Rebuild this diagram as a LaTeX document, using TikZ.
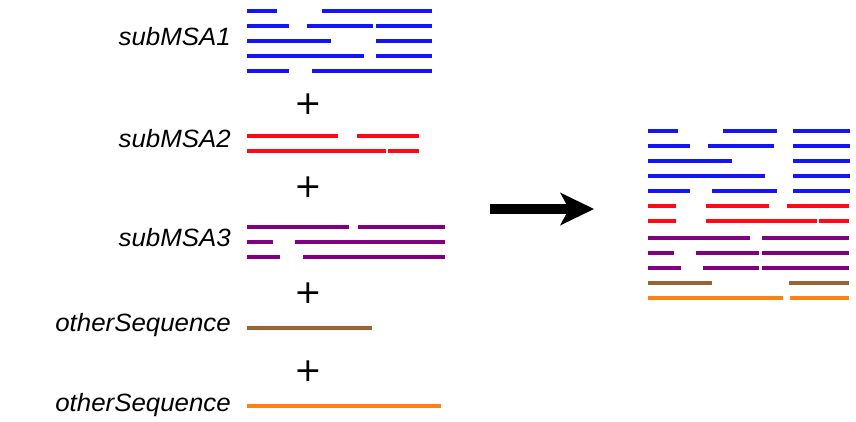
\documentclass[tikz,border=0pt]{standalone}
\usepackage{fontspec}
\setmainfont{Liberation Sans}
\newfontfamily\lblfont{Liberation Sans}[FakeStretch=1.035]
\newfontfamily\plusfont{DejaVu Sans}
\usetikzlibrary{arrows.meta}
\definecolor{msablue}{RGB}{20,20,250}
\definecolor{msared}{RGB}{255,10,20}
\definecolor{msapurple}{RGB}{128,0,128}
\definecolor{msabrown}{RGB}{153,102,51}
\definecolor{msaorange}{RGB}{255,128,20}
\tikzset{
  seg/.style={line width=4pt, line cap=butt},
  lbl/.style={anchor=base east, inner sep=0pt, font=\lblfont\fontsize{25}{30}\selectfont\itshape},
  plussign/.style={inner sep=0pt, font=\plusfont\fontsize{33}{36}\selectfont},
  bigarrow/.style={line width=10.5pt, -{Stealth[length=34pt,width=33pt,inset=9pt,line width=0pt]}}
}
\begin{document}
\begin{tikzpicture}[x=1pt,y=-1pt]
\useasboundingbox (0,0) rectangle (856,422);
% left labels
\node[lbl] (l1) at (231,45.7) {subMSA1};
\node[lbl] (l2) at (231,148) {subMSA2};
\node[lbl] (l3) at (231,246.7) {subMSA3};
\node[lbl] (l4) at (231,331.7) {otherSequence};
\node[lbl] (l5) at (231,411.7) {otherSequence};
% plus signs
\node[plussign] (p1) at (308,104) {+};
\node[plussign] (p2) at (308,187) {+};
\node[plussign] (p3) at (308,293) {+};
\node[plussign] (p4) at (308,371) {+};
% left blocks
\foreach \y/\a/\b in {11/247/277, 11/322/432,
  26/247/289, 26/307/373, 26/376/432,
  41/247/331, 41/376/432,
  56/247/364, 56/376/432,
  71/247/289, 71/312/432}
  \draw[seg, msablue] (\a,\y) -- (\b,\y);
\foreach \y/\a/\b in {136/247/338, 136/357/419,
  151/247/386, 151/388/419}
  \draw[seg, msared] (\a,\y) -- (\b,\y);
\foreach \y/\a/\b in {227/247/349, 227/358/445,
  242/247/273, 242/295/445,
  257/247/280, 257/303/445}
  \draw[seg, msapurple] (\a,\y) -- (\b,\y);
\draw[seg, msabrown] (247,328) -- (372,328);
\draw[seg, msaorange] (247,406) -- (441,406);
% arrow
\coordinate (arrowstart) at (490,209);
\coordinate (arrowend) at (594,209);
\draw[bigarrow] (arrowstart) -- (arrowend);
% right merged block
\foreach \y/\a/\b in {131/648/678, 131/723/777, 131/793/850,
  146/648/690, 146/708/774, 146/793/850,
  161/648/732, 161/793/850,
  176/648/765, 176/793/850,
  191/648/690, 191/712/777, 191/793/850}
  \draw[seg, msablue] (\a,\y) -- (\b,\y);
\foreach \y/\a/\b in {206/648/676, 206/706/769, 206/787/849,
  221/648/676, 221/706/817, 221/819/849}
  \draw[seg, msared] (\a,\y) -- (\b,\y);
\foreach \y/\a/\b in {238/648/750, 238/762/849,
  253/648/674, 253/696/759, 253/762/849,
  268/648/681, 268/703/759, 268/762/849}
  \draw[seg, msapurple] (\a,\y) -- (\b,\y);
\foreach \y/\a/\b in {283/648/712, 283/789/849}
  \draw[seg, msabrown] (\a,\y) -- (\b,\y);
\foreach \y/\a/\b in {298/648/783, 298/790/849}
  \draw[seg, msaorange] (\a,\y) -- (\b,\y);
\end{tikzpicture}
\end{document}
